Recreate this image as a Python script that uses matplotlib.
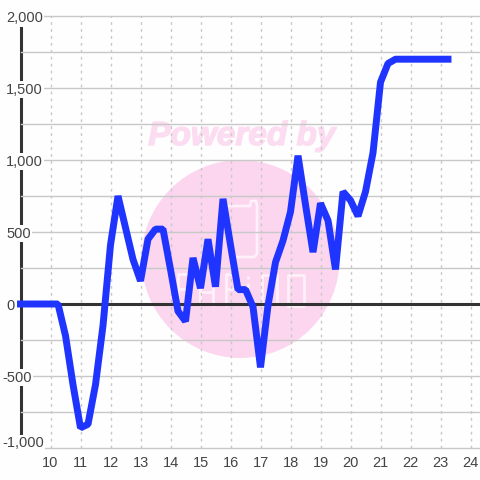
import matplotlib
matplotlib.use("Agg")
import matplotlib.pyplot as plt
import matplotlib.patheffects as pe
from matplotlib.patches import Ellipse, PathPatch
from matplotlib.path import Path
from matplotlib.transforms import ScaledTranslation

plt.rcParams['font.family'] = ['Liberation Sans', 'DejaVu Sans']

hours = [9, 10.25, 10.5, 10.75, 11, 11.25, 11.5, 11.75, 12, 12.25, 12.5, 12.75, 13, 13.25, 13.5, 13.75,
         14, 14.25, 14.5, 14.75, 15, 15.25, 15.5, 15.75, 16, 16.25, 16.5, 16.75, 17, 17.25, 17.5, 17.75,
         18, 18.25, 18.5, 18.75, 19, 19.25, 19.5, 19.75, 20, 20.25, 20.5, 20.75, 21, 21.25, 21.5, 23.25]
values = [0, 0, -220, -560, -860, -835, -560, -150, 410, 750, 530, 310, 160, 450, 520, 520,
          240, -50, -120, 320, 110, 450, 120, 730, 410, 100, 100, -20, -440, -10, 290, 440,
          640, 1030, 690, 360, 700, 580, 240, 780, 720, 610, 780, 1050, 1540, 1670, 1700, 1700]
x_ticks = list(range(10, 25))
y_major = [-1000, -500, 0, 500, 1000, 1500, 2000]
y_labels = ['-1,000', '-500', '0', '500', '1,000', '1,500', '2,000']
y_minor = [-750, -250, 250, 750, 1250, 1750]

W = H = 480
fig = plt.figure(figsize=(4.8, 4.8), dpi=100, facecolor='#fefefe')
ax = fig.add_axes([20.5 / W, 1 - 448 / H, (480 - 20.5) / W, (448 - 16) / H])
ax.patch.set_visible(False)
ax.set_xlim(9, 9 + 459.5 / 30)
ax.set_ylim(-1000, 2000)
for s in ax.spines.values():
    s.set_visible(False)

# watermark
PINK = '#fbd6ee'
fig.add_artist(Ellipse((240.5 / W, 1 - 259 / H), 198 / W, 198 / H, transform=fig.transFigure,
                       fc=PINK, ec='none', zorder=-5))
fig.text(242 / W, 1 - 145 / H, 'Powered by', color='#fcdcf0', fontsize=24, fontweight='bold',
         fontstyle='italic', ha='center', va='baseline', zorder=-4,
         path_effects=[pe.withStroke(linewidth=1.0, foreground='#fcdcf0')])
def wm(points):
    verts = [(px / W, 1 - py / H) for px, py in points]
    fig.add_artist(PathPatch(Path(verts), transform=fig.transFigure, fc='none', ec='#fff0f9', lw=2.0, zorder=-3,
                             joinstyle='round', capstyle='round'))
wm([(226, 206), (250, 206), (251, 201), (256, 201), (257, 205), (257, 254), (254, 257), (233, 257)])
for pts in ([(178, 305), (178, 274), (190, 274)], [(178, 289), (188, 289)],
            [(200, 305), (200, 275)], [(213, 305), (213, 275)], [(200, 292), (213, 292)],
            [(226, 305), (226, 274), (233, 274)], [(226, 289), (233, 289)],
            [(262, 305), (262, 275), (277, 275), (277, 305)],
            [(288, 306), (288, 275), (304, 275), (304, 306), (288, 306)],
            [(248, 305), (248, 284)], [(248, 277), (248, 277.5)]):
    wm(pts)

# axes furniture
ax.axvline(9, color='#333333', lw=2.2, zorder=1.4, clip_on=False)
ax.axhline(0, color='#333333', lw=2.2, zorder=2)
ax.plot(hours, values, color='#1f35ff', lw=5.0, zorder=3, solid_joinstyle='bevel', solid_capstyle='projecting', clip_on=False)

ax.set_xticks(x_ticks)
ax.set_yticks(y_major, y_labels)
ax.set_yticks(y_minor, minor=True)
ax.tick_params(which='both', length=0)
ax.tick_params(axis='x', labelsize=10.5, labelcolor='#444444', pad=6)
ax.tick_params(axis='y', labelsize=10.5, labelcolor='#444444')
ax.grid(axis='y', which='both', color='#c8c8c8', lw=1, clip_on=False)
ax.grid(axis='x', which='major', color='#c8c8c8', lw=1, ls=(0, (2, 3)), clip_on=False)
ax.set_axisbelow('line')
for v, tick, lab in zip(y_major, ax.yaxis.get_major_ticks(), ax.get_yticklabels()):
    tick.set_pad(13.3 if v < 0 else 10.4)
    lab.set_ha('left')
    lab.set_bbox(dict(fc='#fefefe', ec='none', pad=1))
    dy = {-1000: 6.5, 2000: -1}.get(v, 0)
    lab.set_transform(lab.get_transform() + ScaledTranslation(0, dy / 100, fig.dpi_scale_trans))

fig.savefig('out.png', dpi=100, facecolor=fig.get_facecolor())
